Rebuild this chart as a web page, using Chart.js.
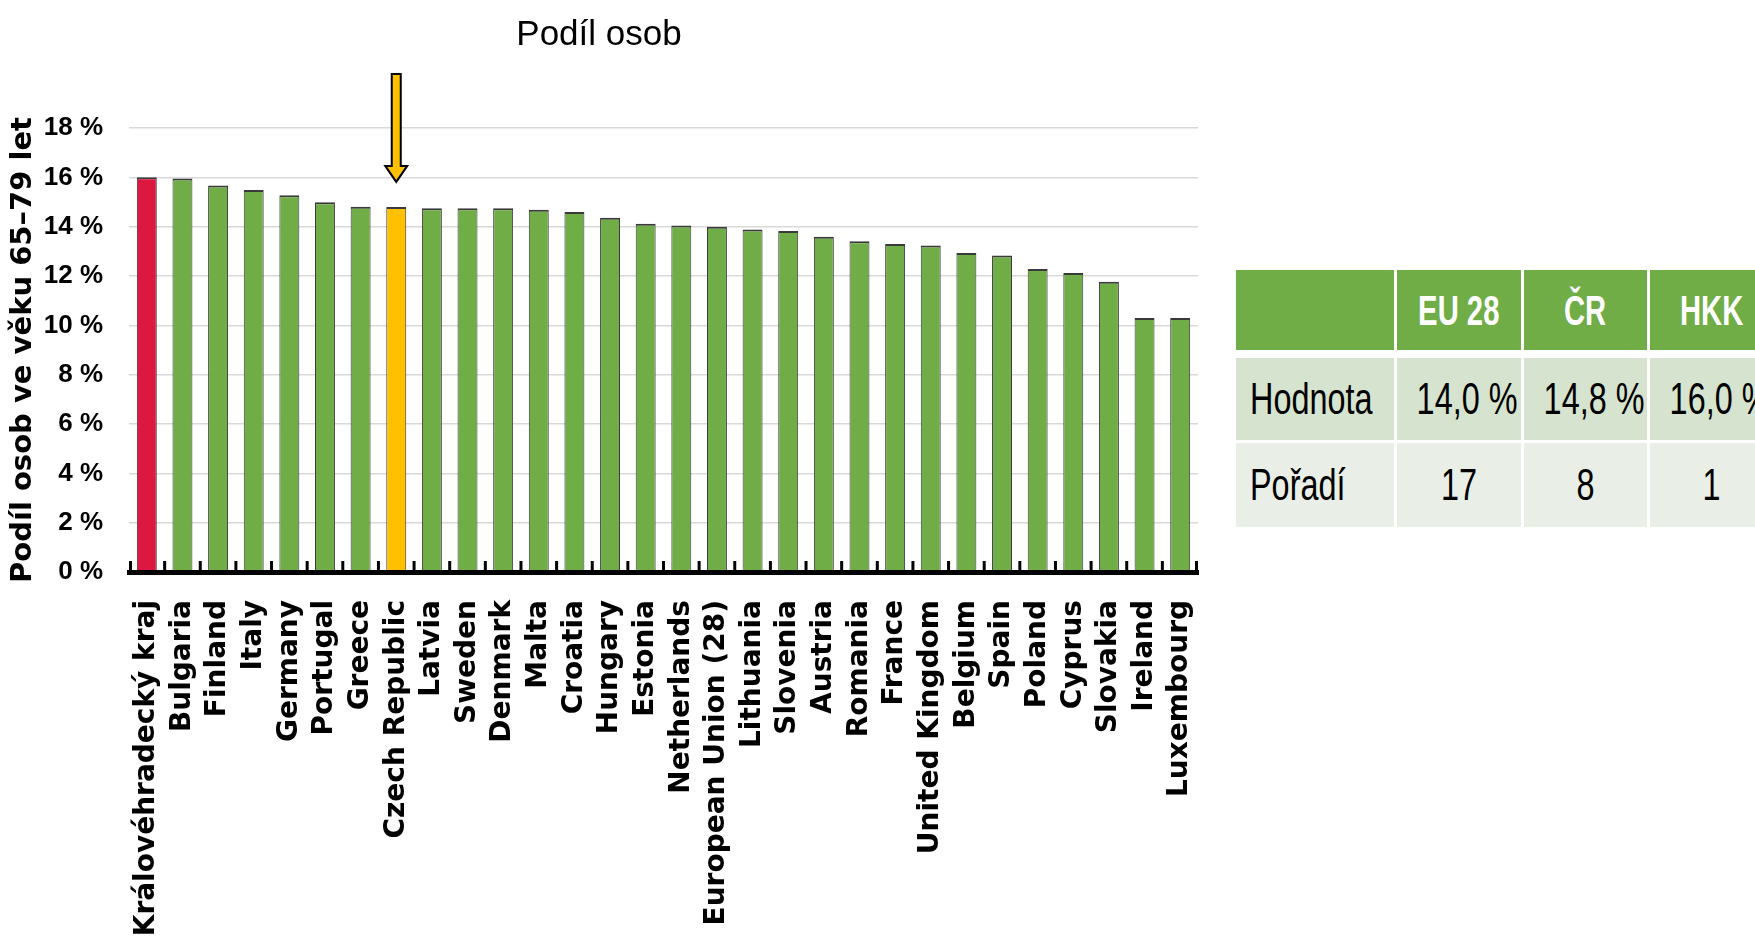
<!DOCTYPE html>
<html>
<head>
<meta charset="utf-8">
<script src="https://cdn.jsdelivr.net/npm/chart.js@4.4.1/dist/chart.umd.min.js"></script>
<style>
  body { margin: 0; width: 1755px; height: 952px; overflow: hidden; background: #fff; position: relative; }
  #wrap { position: absolute; left: 0; top: 0; width: 1210px; height: 952px; }
  #tbl {
    position: absolute; left: 1236px; top: 270px;
    width: 540px; table-layout: fixed;
    border-collapse: separate; border-spacing: 0;
    font-family: 'Liberation Sans', Arial, sans-serif;
    font-size: 45px; color: #000;
  }
  #tbl td { padding: 0; text-align: center; border-right: 3px solid #fff; white-space: nowrap; overflow: hidden; }
  #tbl td span { display: inline-block; transform: scaleX(0.72); }
  #tbl td.first span { transform-origin: left center; }
  #tbl tr.head td { background: #70ad47; color: #fff; font-weight: bold; font-size: 43px; height: 80px; border-bottom: 8px solid #fff; }
  #tbl tr.head td span { transform: scaleX(0.68); }
  #tbl tr.r1 td { background: #d5e3cf; height: 82px; border-bottom: 3px solid #fff; }
  #tbl tr.r2 td { background: #e9efe7; height: 84px; }
  #tbl td.first { text-align: left; padding-left: 14px; width: 143px; }
  #tbl td.col { width: 122px; }
</style>
</head>
<body>
<div id="wrap"><canvas id="chart"></canvas></div>
<table id="tbl"></table>
<script>
// data
const categories = ['Královéhradecký kraj', 'Bulgaria', 'Finland', 'Italy', 'Germany', 'Portugal', 'Greece',
  'Czech Republic', 'Latvia', 'Sweden', 'Denmark', 'Malta', 'Croatia', 'Hungary', 'Estonia', 'Netherlands',
  'European Union (28)', 'Lithuania', 'Slovenia', 'Austria', 'Romania', 'France', 'United Kingdom', 'Belgium',
  'Spain', 'Poland', 'Cyprus', 'Slovakia', 'Ireland', 'Luxembourg'];
const values = [16.0, 15.95, 15.67, 15.49, 15.27, 14.99, 14.81, 14.8, 14.75, 14.75, 14.75, 14.69, 14.59, 14.36,
  14.12, 14.05, 14.0, 13.89, 13.82, 13.59, 13.41, 13.3, 13.24, 12.93, 12.83, 12.28, 12.12, 11.77, 10.3, 10.3];
const yTicks = [0, 2, 4, 6, 8, 10, 12, 14, 16, 18];

const regionName = 'Královéhradecký kraj';
const countryName = 'Czech Republic';

const tableCols = ['EU 28', 'ČR', 'HKK'];
const tableValues = ['14,0 %', '14,8 %', '16,0 %'];
const tableRanks = ['17', '8', '1'];

const barColors = categories.map(c => c === regionName ? '#dc1740' : (c === countryName ? '#ffc000' : '#70ad47'));

// table on the right
const cell = (cls, t) => '<td class="' + cls + '"><span>' + t + '</span></td>';
const tbl = document.getElementById('tbl');
tbl.innerHTML =
  '<tr class="head">' + cell('first', '') + tableCols.map(c => cell('col', c)).join('') + '</tr>' +
  '<tr class="r1">' + cell('first', 'Hodnota') + tableValues.map(v => cell('col', v)).join('') + '</tr>' +
  '<tr class="r2">' + cell('first', 'Pořadí') + tableRanks.map(v => cell('col', v)).join('') + '</tr>';

// tick marks between categories, pointing up from the axis
const innerTicks = {
  id: 'innerTicks',
  afterDatasetsDraw(chart) {
    const x = chart.scales.x, ctx = chart.ctx;
    const step = x.width / categories.length;
    ctx.save();
    ctx.strokeStyle = '#000';
    ctx.lineWidth = 3;
    for (let i = 0; i <= categories.length; i++) {
      const px = Math.min(Math.max(x.left + i * step, x.left + 1.5), x.right - 1.5);
      ctx.beginPath();
      ctx.moveTo(px, x.top);
      ctx.lineTo(px, x.top - 11);
      ctx.stroke();
    }
    ctx.restore();
  }
};

// arrow pointing at the Czech Republic bar
const arrow = {
  id: 'arrow',
  afterDraw(chart) {
    const idx = categories.indexOf(countryName);
    const cx = chart.scales.x.getPixelForValue(idx);
    const tip = chart.scales.y.getPixelForValue(values[idx]) - 25;
    const top = chart.chartArea.top - 54;
    const sw = 4.5, hw = 11, hh = 16;
    const ctx = chart.ctx;
    ctx.save();
    ctx.beginPath();
    ctx.moveTo(cx - sw, top);
    ctx.lineTo(cx + sw, top);
    ctx.lineTo(cx + sw, tip - hh);
    ctx.lineTo(cx + hw, tip - hh);
    ctx.lineTo(cx, tip);
    ctx.lineTo(cx - hw, tip - hh);
    ctx.lineTo(cx - sw, tip - hh);
    ctx.closePath();
    ctx.fillStyle = '#ffc000';
    ctx.fill();
    ctx.lineWidth = 2;
    ctx.strokeStyle = '#000';
    ctx.stroke();
    ctx.restore();
  }
};

const sans = "'Liberation Sans', Arial, sans-serif";

new Chart(document.getElementById('chart'), {
  type: 'bar',
  data: {
    labels: categories,
    datasets: [{
      data: values,
      backgroundColor: barColors,
      borderColor: '#3a3a3a',
      borderWidth: { top: 2, left: 1, right: 1, bottom: 0 },
      categoryPercentage: 1,
      barPercentage: 0.56
    }]
  },
  options: {
    responsive: true,
    maintainAspectRatio: false,
    animation: false,
    layout: { padding: { left: 0, right: 12, top: 0, bottom: 0 } },
    plugins: {
      legend: { display: false },
      tooltip: { enabled: false },
      title: {
        display: true,
        text: 'Podíl osob',
        color: '#000',
        font: { family: sans, size: 35, weight: 'normal' },
        padding: { top: 14, bottom: 72 }
      }
    },
    scales: {
      x: {
        grid: { display: false, drawTicks: false },
        border: { display: true, color: '#000', width: 5, z: 1 },
        ticks: {
          autoSkip: false, maxRotation: 90, minRotation: 90,
          padding: 28, color: '#000',
          font: { family: 'DejaVu Sans', size: 28, weight: 'bold' }
        },
        afterFit(scale) {
          scale.height = 380;
          scale.paddingLeft = 0;
          scale.paddingRight = 0;
        }
      },
      y: {
        min: 0, max: 18,
        afterBuildTicks(scale) { scale.ticks = yTicks.map(v => ({ value: v })); },
        grid: {
          drawTicks: false, lineWidth: 1.5,
          color: c => c.tick && c.tick.value === 0 ? 'rgba(0,0,0,0)' : '#d9d9d9'
        },
        border: { display: false },
        ticks: {
          padding: 26, color: '#000',
          font: { family: sans, size: 26, weight: 'bold' },
          callback: v => v + ' %'
        },
        title: {
          display: true,
          text: 'Podíl osob ve věku 65–79 let',
          color: '#000',
          font: { family: 'DejaVu Sans', size: 29, weight: 'bold' },
          padding: { top: 6, bottom: 0 }
        },
        afterFit(scale) { scale.width = 129; }
      }
    }
  },
  plugins: [innerTicks, arrow]
});
</script>
</body>
</html>
